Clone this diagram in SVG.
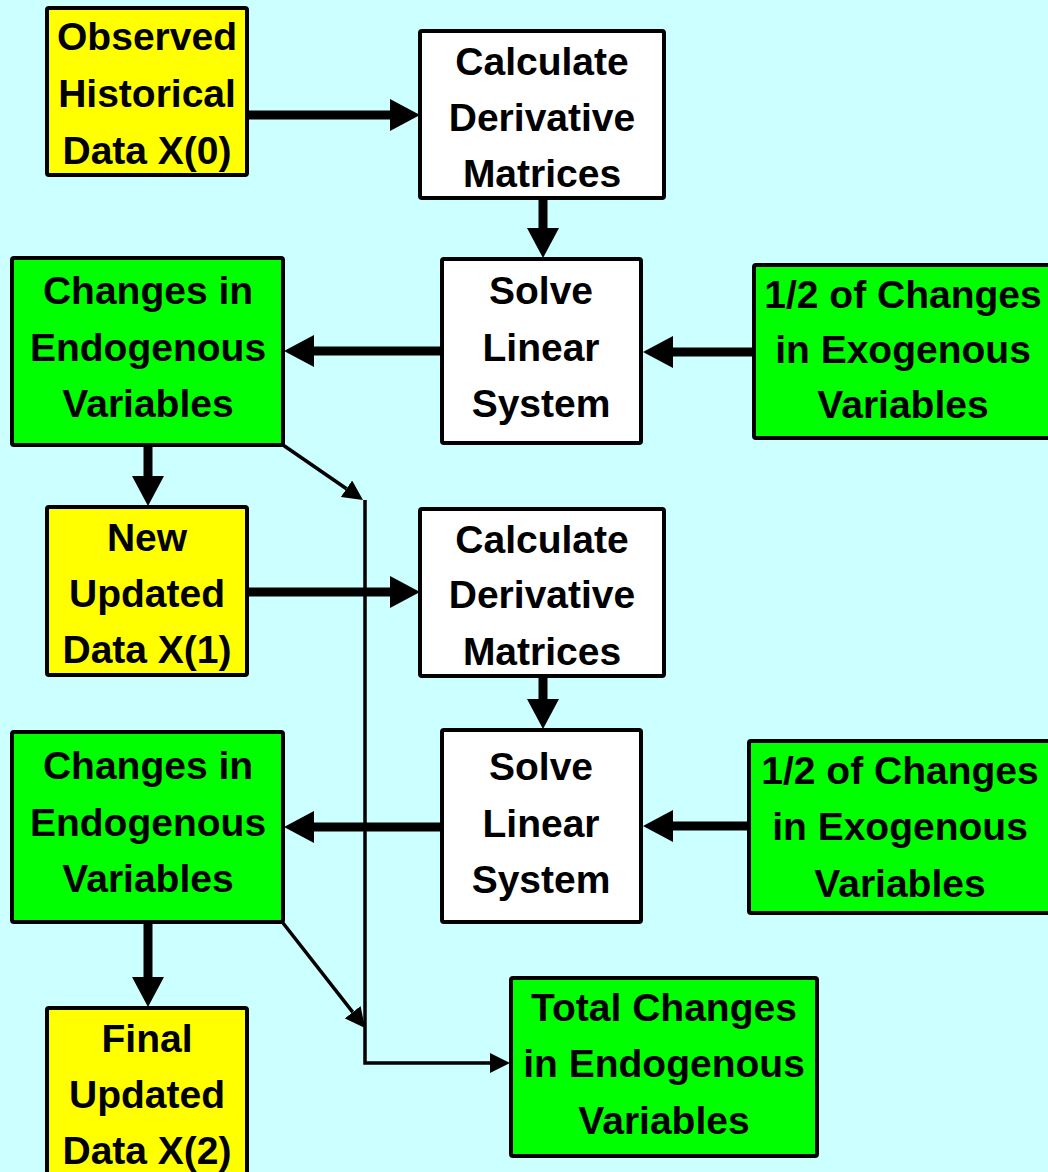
<svg xmlns="http://www.w3.org/2000/svg" width="1048" height="1172" viewBox="0 0 1048 1172">
  <style>
    .box { stroke: #000; stroke-width: 4; }
    .data { fill: #FFFF00; }
    .calc { fill: #FFFFFF; }
    .chg { fill: #00FF00; }
    .lbl { font-family: "Liberation Sans", Arial, sans-serif; font-weight: bold; font-size: 39px; fill: #000; text-anchor: middle; }
    .thick { stroke: #000; stroke-width: 9; fill: none; marker-end: url(#bigHead); }
    .thin { stroke: #000; stroke-width: 3.5; fill: none; marker-end: url(#smallHead); }
  </style>
  <defs>
    <marker id="bigHead" markerUnits="userSpaceOnUse" viewBox="0 0 30 32" markerWidth="30" markerHeight="32" refX="0" refY="16" orient="auto">
      <path d="M0,0 L30,16 L0,32 Z" fill="#000"/>
    </marker>
    <marker id="smallHead" markerUnits="userSpaceOnUse" viewBox="0 0 20 20" markerWidth="20" markerHeight="20" refX="0" refY="10" orient="auto">
      <path d="M0,0 L20,10 L0,20 Z" fill="#000"/>
    </marker>
  </defs>

  <rect width="1048" height="1172" fill="#CCFFFF"/>

  <g id="connectors">
    <line class="thick" x1="247" y1="115" x2="390" y2="115"/>
    <line class="thick" x1="543" y1="198" x2="543" y2="228"/>
    <line class="thick" x1="442" y1="351" x2="314" y2="351"/>
    <line class="thick" x1="754" y1="352" x2="673" y2="352"/>
    <line class="thick" x1="148" y1="445" x2="148" y2="476"/>
    <line class="thick" x1="247" y1="592" x2="390" y2="592"/>
    <line class="thick" x1="543" y1="676" x2="543" y2="699"/>
    <line class="thick" x1="442" y1="827" x2="314" y2="827"/>
    <line class="thick" x1="749" y1="826" x2="673" y2="826"/>
    <line class="thick" x1="148" y1="922" x2="148" y2="977"/>
    <line class="thin" x1="283" y1="445" x2="346.5" y2="488.7"/>
    <line class="thin" x1="283" y1="923" x2="352.7" y2="1012.2"/>
    <polyline class="thin" points="365,500 365,1063 490,1063"/>
  </g>

  <g id="observed-data">
    <rect class="box data" x="47" y="8" width="200" height="167" rx="2"/>
    <text class="lbl" x="147" y="50">Observed</text>
    <text class="lbl" x="147" y="107">Historical</text>
    <text class="lbl" x="147" y="164">Data X(0)</text>
  </g>

  <g id="calc-deriv-1">
    <rect class="box calc" x="420" y="31" width="244" height="167" rx="2"/>
    <text class="lbl" x="542" y="75">Calculate</text>
    <text class="lbl" x="542" y="131">Derivative</text>
    <text class="lbl" x="542" y="187">Matrices</text>
  </g>

  <g id="solve-1">
    <rect class="box calc" x="442" y="259" width="199" height="184" rx="2"/>
    <text class="lbl" x="541" y="304">Solve</text>
    <text class="lbl" x="541" y="361">Linear</text>
    <text class="lbl" x="541" y="417">System</text>
  </g>

  <g id="endo-changes-1">
    <rect class="box chg" x="12" y="258" width="271" height="187" rx="2"/>
    <text class="lbl" x="148" y="304">Changes in</text>
    <text class="lbl" x="148" y="361">Endogenous</text>
    <text class="lbl" x="148" y="417">Variables</text>
  </g>

  <g id="exo-changes-1">
    <rect class="box chg" x="754" y="265" width="300" height="173" rx="2"/>
    <text class="lbl" x="903" y="308">1/2 of Changes</text>
    <text class="lbl" x="903" y="363">in Exogenous</text>
    <text class="lbl" x="903" y="418">Variables</text>
  </g>

  <g id="updated-data-1">
    <rect class="box data" x="47" y="507" width="200" height="168" rx="2"/>
    <text class="lbl" x="147" y="551">New</text>
    <text class="lbl" x="147" y="607">Updated</text>
    <text class="lbl" x="147" y="663">Data X(1)</text>
  </g>

  <g id="calc-deriv-2">
    <rect class="box calc" x="420" y="509" width="244" height="167" rx="2"/>
    <text class="lbl" x="542" y="553">Calculate</text>
    <text class="lbl" x="542" y="608">Derivative</text>
    <text class="lbl" x="542" y="665">Matrices</text>
  </g>

  <g id="solve-2">
    <rect class="box calc" x="442" y="730" width="199" height="192" rx="2"/>
    <text class="lbl" x="541" y="780">Solve</text>
    <text class="lbl" x="541" y="837">Linear</text>
    <text class="lbl" x="541" y="893">System</text>
  </g>

  <g id="endo-changes-2">
    <rect class="box chg" x="12" y="732" width="271" height="190" rx="2"/>
    <text class="lbl" x="148" y="779">Changes in</text>
    <text class="lbl" x="148" y="836">Endogenous</text>
    <text class="lbl" x="148" y="892">Variables</text>
  </g>

  <g id="exo-changes-2">
    <rect class="box chg" x="749" y="741" width="305" height="172" rx="2"/>
    <text class="lbl" x="900" y="784">1/2 of Changes</text>
    <text class="lbl" x="900" y="840">in Exogenous</text>
    <text class="lbl" x="900" y="897">Variables</text>
  </g>

  <g id="final-data">
    <rect class="box data" x="47" y="1008" width="200" height="170" rx="2"/>
    <text class="lbl" x="147" y="1052">Final</text>
    <text class="lbl" x="147" y="1108">Updated</text>
    <text class="lbl" x="147" y="1164">Data X(2)</text>
  </g>

  <g id="total-changes">
    <rect class="box chg" x="511" y="978" width="306" height="178" rx="2"/>
    <text class="lbl" x="664" y="1021">Total Changes</text>
    <text class="lbl" x="664" y="1077">in Endogenous</text>
    <text class="lbl" x="664" y="1134">Variables</text>
  </g>
</svg>
